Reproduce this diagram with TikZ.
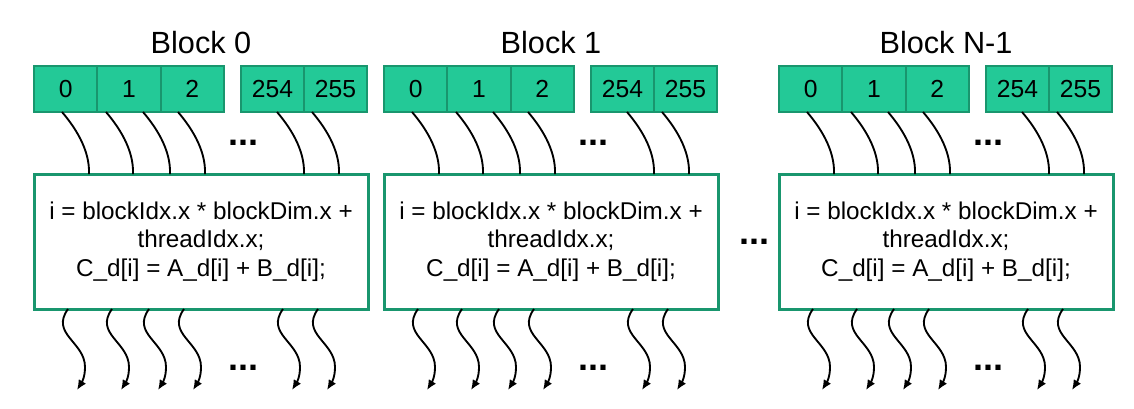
\documentclass[tikz,border=0pt]{standalone}
\usepackage{fontspec}
\setmainfont{Liberation Sans}
\usetikzlibrary{arrows.meta}
\definecolor{cellfill}{RGB}{35,201,151}
\definecolor{celldraw}{RGB}{25,150,110}
\tikzset{
	cell/.style={draw=celldraw, fill=cellfill, line width=1.5pt, minimum width=47.5pt, minimum height=34.5pt, inner sep=0pt, font=\fontsize{18.5}{20}\selectfont},
	kernel/.style={draw=celldraw, line width=2.25pt, minimum width=250.5pt, minimum height=101.25pt, align=center, font=\fontsize{18.2}{21.4}\selectfont},
	title/.style={font=\fontsize{23}{26}\selectfont, inner sep=0pt},
	dots/.style={font=\fontsize{27}{30}\selectfont\bfseries, inner sep=0pt},
	thread/.style={line width=1.4pt, black},
	threadtip/.style={thread, -{Latex[length=7.5pt,width=6.5pt]}},
}
\begin{document}
\begin{tikzpicture}[x=0.75pt,y=0.75pt,yscale=-1,xscale=1]
		\useasboundingbox (0,0) rectangle (1134,408);

		\foreach \b/\o/\t in {0/0/Block 0,1/350/Block 1,2/745/Block N-1}{
			% Text Node
			\node [title] (title\b) at (\o+201,43) {\t};
			%Shape: Rectangle (thread cells)
			\node [cell] (c\b-0) at (\o+65.7,89) {0};
			\node [cell] (c\b-1) at (\o+129,89) {1};
			\node [cell] (c\b-2) at (\o+192.3,89) {2};
			\node [cell] (c\b-254) at (\o+272.5,89) {254};
			\node [cell] (c\b-255) at (\o+335.5,89) {255};
			%Shape: Rectangle (kernel body)
			\node [kernel] (k\b) at (\o+201,241.5) {i = blockIdx.x * blockDim.x +\\threadIdx.x;\\C\_d[i] = A\_d[i] + B\_d[i];};
			% Text Node
			\node [dots] (du\b) at (\o+243,143) {...};
			\node [dots] (dl\b) at (\o+243,368) {...};
			%Curve Lines
			\foreach \u [count=\k] in {62,106,143,178,277,312}{
				\coordinate (s\b-\k) at (\o+\u,112);
				\coordinate (e\b-\k) at (\o+\u+27,174);
				\coordinate (b\b-\k) at (\o+\u+6,309);
				\coordinate (m\b-\k) at (\o+\u+23,367);
				\coordinate (a\b-\k) at (\o+\u+15,390);
				\draw [thread] (s\b-\k) .. controls +(12,14) and +(1,-25) .. (e\b-\k);
				\draw [threadtip] (b\b-\k) .. controls +(-18,25) and +(0,-25) .. (m\b-\k) .. controls +(0,10) and +(5,-8) .. (a\b-\k);
			}
		}
		% Text Node
		\node [dots] (dmid) at (754,242) {...};

\end{tikzpicture}
\end{document}
